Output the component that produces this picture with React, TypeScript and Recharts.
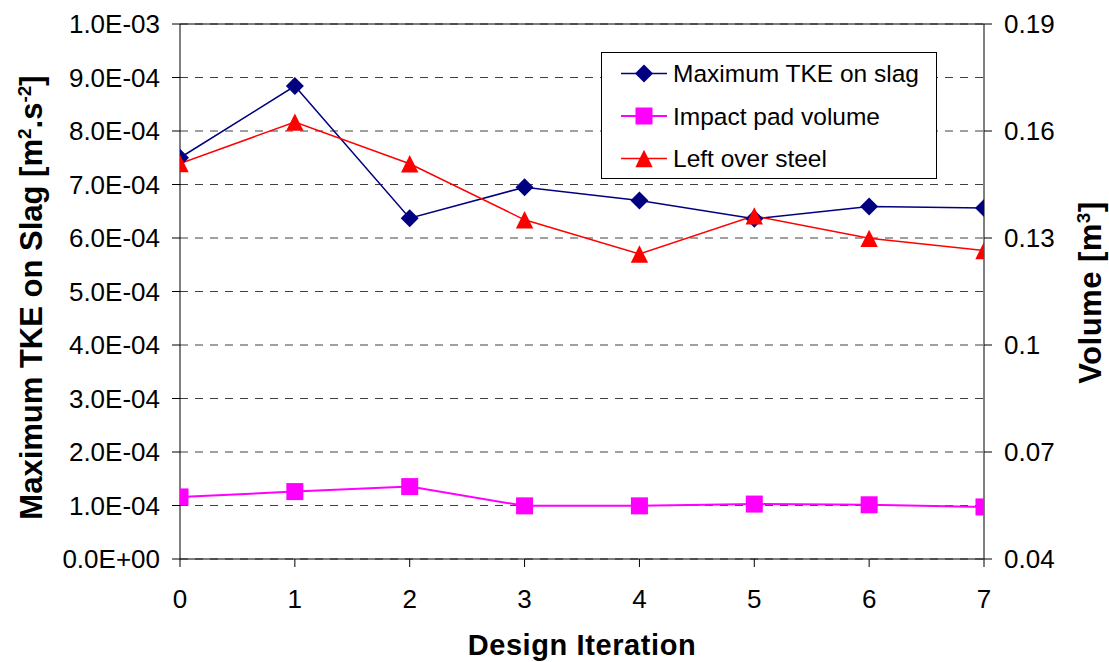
import React from 'react';
import { LineChart, Line, XAxis, YAxis, CartesianGrid, Legend, ReferenceLine, Label } from 'recharts';

const iterations = [0, 1, 2, 3, 4, 5, 6, 7];
const maxTKE = [7.5e-4, 8.84e-4, 6.37e-4, 6.95e-4, 6.7e-4, 6.36e-4, 6.59e-4, 6.56e-4];
const impactPadVolume = [0.0574, 0.0589, 0.0603, 0.0549, 0.0549, 0.0554, 0.0552, 0.0546];
const leftOverSteel = [0.1509, 0.1625, 0.1508, 0.1351, 0.1255, 0.1362, 0.1299, 0.1265];

const leftTicks = [0, 0.0001, 0.0002, 0.0003, 0.0004, 0.0005, 0.0006, 0.0007, 0.0008, 0.0009, 0.001];
const leftTickLabels = ['0.0E+00', '1.0E-04', '2.0E-04', '3.0E-04', '4.0E-04', '5.0E-04', '6.0E-04', '7.0E-04', '8.0E-04', '9.0E-04', '1.0E-03'];
const rightTicks = [0.04, 0.07, 0.1, 0.13, 0.16, 0.19];
const rightTickLabels = ['0.04', '0.07', '0.1', '0.13', '0.16', '0.19'];
const seriesNames = ['Maximum TKE on slag', 'Impact pad volume', 'Left over steel'];

const data = iterations.map((it, i) => ({
  iteration: it,
  tke: maxTKE[i],
  pad: impactPadVolume[i],
  steel: leftOverSteel[i],
}));

const NAVY = '#000080';
const MAGENTA = '#FF00FF';
const RED = '#FF0000';
const FONT = '"Liberation Sans", Arial, Helvetica, sans-serif';

const diamondPts = (cx: number, cy: number, r: number) =>
  `${cx},${cy - r} ${cx + r},${cy} ${cx},${cy + r} ${cx - r},${cy}`;
const trianglePts = (cx: number, cy: number, r: number) =>
  `${cx},${cy - r} ${cx + r},${cy + r} ${cx - r},${cy + r}`;

const renderDiamond = (p: any) => {
  if (p.cx == null || p.cy == null) return <g key={`d-${p.index}`} />;
  return <polygon key={`d-${p.index}`} points={diamondPts(p.cx, p.cy, 9)} fill={NAVY} />;
};
const renderSquare = (p: any) => {
  if (p.cx == null || p.cy == null) return <g key={`s-${p.index}`} />;
  return <rect key={`s-${p.index}`} x={p.cx - 8.5} y={p.cy - 8.5} width={17} height={17} fill={MAGENTA} />;
};
const renderTriangle = (p: any) => {
  if (p.cx == null || p.cy == null) return <g key={`t-${p.index}`} />;
  return <polygon key={`t-${p.index}`} points={trianglePts(p.cx, p.cy, 8.7)} fill={RED} />;
};

const LegendBox = () => {
  const rows = [
    { name: seriesNames[0], color: NAVY, kind: 'd' },
    { name: seriesNames[1], color: MAGENTA, kind: 's' },
    { name: seriesNames[2], color: RED, kind: 't' },
  ];
  return (
    <svg width={336} height={127} style={{ display: 'block' }}>
      <rect x={0.5} y={0.5} width={335} height={126} fill="#fff" stroke="#000" strokeWidth={1} />
      {rows.map((r, i) => {
        const cy = 21.5 + 42.5 * i;
        return (
          <g key={r.name}>
            <line x1={20} x2={66} y1={cy} y2={cy} stroke={r.color} strokeWidth={r.kind === 's' ? 2 : 1.5} />
            {r.kind === 'd' && <polygon points={diamondPts(43, cy, 9)} fill={r.color} />}
            {r.kind === 's' && <rect x={43 - 8.5} y={cy - 8.5} width={17} height={17} fill={r.color} />}
            {r.kind === 't' && <polygon points={trianglePts(43, cy, 8.7)} fill={r.color} />}
            <text x={72} y={cy + 8.6} fontSize={24.5} fontFamily={FONT} fill="#000">{r.name}</text>
          </g>
        );
      })}
    </svg>
  );
};

const LeftTitle = (props: any) => {
  const vb = props.viewBox || {};
  const cy = vb.y + vb.height / 2 + 6;
  const x = 42;
  return (
    <text transform={`translate(${x},${cy}) rotate(-90)`} textAnchor="middle" fontSize={31} fontWeight="bold" fontFamily={FONT} fill="#000">
      Maximum TKE on Slag [m<tspan dy={-11} fontSize={19}>2</tspan><tspan dy={11}>.s</tspan><tspan dy={-11} fontSize={19}>-2</tspan><tspan dy={11}>]</tspan>
    </text>
  );
};

const RightTitle = (props: any) => {
  const vb = props.viewBox || {};
  const cy = vb.y + vb.height / 2 + 1;
  const x = 1101;
  return (
    <text transform={`translate(${x},${cy}) rotate(-90)`} textAnchor="middle" fontSize={31} fontWeight="bold" fontFamily={FONT} fill="#000" letterSpacing={0.5}>
      Volume [m<tspan dy={-11} fontSize={19}>3</tspan><tspan dy={11}>]</tspan>
    </text>
  );
};

const BottomTitle = (props: any) => {
  const vb = props.viewBox || {};
  const cx = vb.x + vb.width / 2;
  return (
    <text x={cx} y={655} textAnchor="middle" fontSize={29} fontWeight="bold" fontFamily={FONT} fill="#000" letterSpacing={0.6}>
      Design Iteration
    </text>
  );
};

const tickStyle = { fontSize: 26, fill: '#000', fontFamily: FONT };

export default function App() {
  return (
    <div style={{ position: 'absolute', left: 0, top: 0, width: 1109, height: 662, background: '#fff', fontFamily: FONT }}>
      <LineChart width={1109} height={662} data={data} margin={{ top: 24, right: 25, bottom: 43, left: 80 }}>
        <CartesianGrid yAxisId="left" horizontal={true} vertical={false} stroke="#404040" strokeDasharray="8 7" />
        <XAxis
          dataKey="iteration"
          type="number"
          domain={[0, 7]}
          ticks={iterations}
          height={60}
          stroke="#000"
          tickSize={8}
          tickMargin={23}
          tick={tickStyle}
          interval={0}
          allowDataOverflow
        >
          <Label content={BottomTitle} />
        </XAxis>
        <YAxis
          yAxisId="left"
          orientation="left"
          width={100}
          domain={[0, 0.001]}
          ticks={leftTicks}
          tickFormatter={(v: number, i: number) => leftTickLabels[i]}
          stroke="#000"
          tickSize={8}
          tickMargin={12}
          tick={tickStyle}
          interval={0}
          allowDataOverflow
        >
          <Label content={LeftTitle} />
        </YAxis>
        <YAxis
          yAxisId="right"
          orientation="right"
          width={100}
          domain={[0.04, 0.19]}
          ticks={rightTicks}
          tickFormatter={(v: number, i: number) => rightTickLabels[i]}
          stroke="#000"
          tickSize={8}
          tickMargin={12}
          tick={tickStyle}
          interval={0}
          allowDataOverflow
        >
          <Label content={RightTitle} />
        </YAxis>
        <ReferenceLine yAxisId="left" y={0.001} stroke="#000" strokeWidth={1} />
        <Line
          yAxisId="left"
          dataKey="tke"
          name={seriesNames[0]}
          stroke={NAVY}
          strokeWidth={1.5}
          dot={renderDiamond}
          activeDot={false}
          isAnimationActive={false}
        />
        <Line
          yAxisId="right"
          dataKey="pad"
          name={seriesNames[1]}
          stroke={MAGENTA}
          strokeWidth={2}
          dot={renderSquare}
          activeDot={false}
          isAnimationActive={false}
        />
        <Line
          yAxisId="right"
          dataKey="steel"
          name={seriesNames[2]}
          stroke={RED}
          strokeWidth={1.5}
          dot={renderTriangle}
          activeDot={false}
          isAnimationActive={false}
        />
        <Legend
          layout="horizontal"
          verticalAlign="middle"
          align="center"
          wrapperStyle={{ left: 601, top: 52, width: 336, height: 127, margin: 0, padding: 0 }}
          content={() => <LegendBox />}
        />
      </LineChart>
    </div>
  );
}
